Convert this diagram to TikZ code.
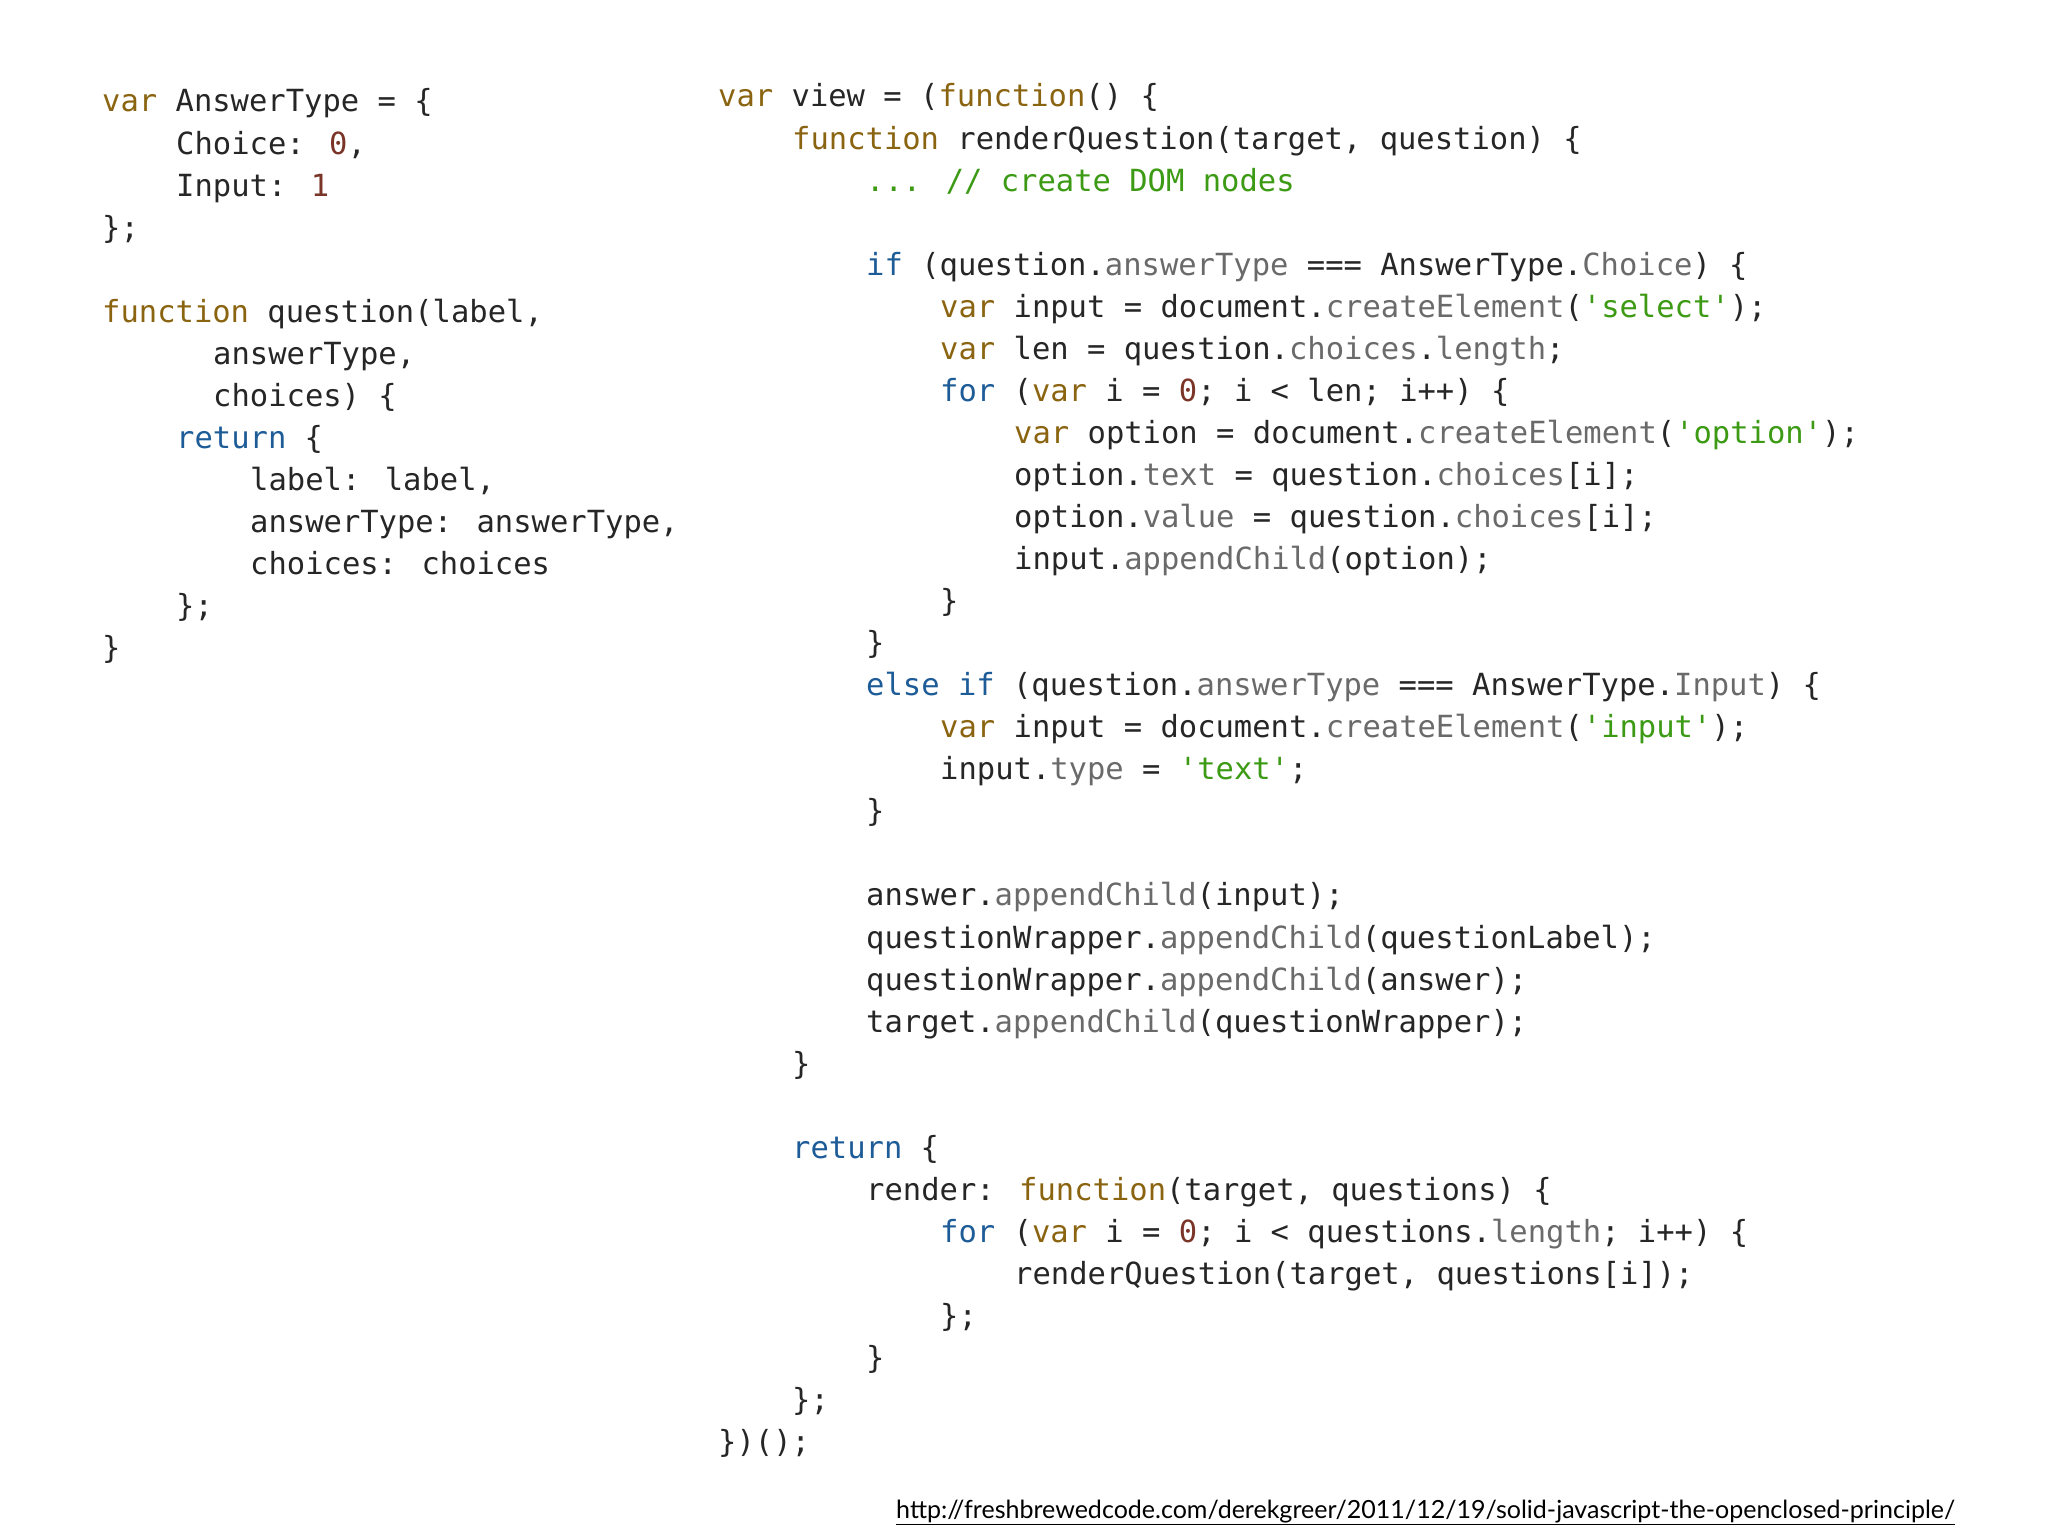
\documentclass[tikz,border=0pt]{standalone}
\usepackage{fontspec}
\newfontfamily\code{DejaVu Sans Mono}
\newfontfamily\urlfont{Lato}
\definecolor{tx}{HTML}{262626}
\definecolor{kgold}{HTML}{8A6410}
\definecolor{kblue}{HTML}{1E5C98}
\definecolor{kstr}{HTML}{3C9A14}
\definecolor{knum}{HTML}{7A3428}
\definecolor{kprop}{HTML}{6A6A6A}
\newcommand\kw[1]{\textcolor{kgold}{#1}}
\newcommand\kb[1]{\textcolor{kblue}{#1}}
\newcommand\ks[1]{\textcolor{kstr}{#1}}
\newcommand\kn[1]{\textcolor{knum}{#1}}
\newcommand\kp[1]{\textcolor{kprop}{#1}}
\newcommand\LL[4]{\node[cl] (#1) at (#2,{-(112+42.05*#3)}) {#4};}
\newcommand\RL[4]{\node[cl] (#1) at (#2,{-(107+42.05*#3)}) {#4};}
\tikzset{cl/.style={anchor=base west,inner sep=0pt,text=tx,font=\code\fontsize{30.5pt}{36pt}\selectfont}}
\begin{document}
\begin{tikzpicture}[x=1pt,y=1pt]
\useasboundingbox (0,0) rectangle (2048,-1536);
% left column
\LL{a0}{102}{0}{\kw{var} AnswerType = \{}
\LL{a1}{176}{1}{Choice: \kn{0},}
\LL{a2}{176}{2}{Input: \kn{1}}
\LL{a3}{102}{3}{\};}
\LL{a5}{102}{5}{\kw{function} question(label,}
\LL{a6}{213}{6}{answerType,}
\LL{a7}{213}{7}{choices) \{}
\LL{a8}{176}{8}{\kb{return} \{}
\LL{a9}{250}{9}{label: label,}
\LL{a10}{250}{10}{answerType: answerType,}
\LL{a11}{250}{11}{choices: choices}
\LL{a12}{176}{12}{\};}
\LL{a13}{102}{13}{\}}
% right column
\RL{b0}{718}{0}{\kw{var} view = (\kw{function}() \{}
\RL{b1}{792}{1}{\kw{function} renderQuestion(target, question) \{}
\RL{b2}{866}{2}{\ks{... // create DOM nodes}}
\RL{b4}{866}{4}{\kb{if} (question.\kp{answerType} === AnswerType.\kp{Choice}) \{}
\RL{b5}{940}{5}{\kw{var} input = document.\kp{createElement}(\ks{'select'});}
\RL{b6}{940}{6}{\kw{var} len = question.\kp{choices}.\kp{length};}
\RL{b7}{940}{7}{\kb{for} (\kw{var} i = \kn{0}; i < len; i++) \{}
\RL{b8}{1014}{8}{\kw{var} option = document.\kp{createElement}(\ks{'option'});}
\RL{b9}{1014}{9}{option.\kp{text} = question.\kp{choices}[i];}
\RL{b10}{1014}{10}{option.\kp{value} = question.\kp{choices}[i];}
\RL{b11}{1014}{11}{input.\kp{appendChild}(option);}
\RL{b12}{940}{12}{\}}
\RL{b13}{866}{13}{\}}
\RL{b14}{866}{14}{\kb{else if} (question.\kp{answerType} === AnswerType.\kp{Input}) \{}
\RL{b15}{940}{15}{\kw{var} input = document.\kp{createElement}(\ks{'input'});}
\RL{b16}{940}{16}{input.\kp{type} = \ks{'text'};}
\RL{b17}{866}{17}{\}}
\RL{b19}{866}{19}{answer.\kp{appendChild}(input);}
\RL{b20}{866}{20}{questionWrapper.\kp{appendChild}(questionLabel);}
\RL{b21}{866}{21}{questionWrapper.\kp{appendChild}(answer);}
\RL{b22}{866}{22}{target.\kp{appendChild}(questionWrapper);}
\RL{b23}{792}{23}{\}}
\RL{b25}{792}{25}{\kb{return} \{}
\RL{b26}{866}{26}{render: \kw{function}(target, questions) \{}
\RL{b27}{940}{27}{\kb{for} (\kw{var} i = \kn{0}; i < questions.\kp{length}; i++) \{}
\RL{b28}{1014}{28}{renderQuestion(target, questions[i]);}
\RL{b29}{940}{29}{\};}
\RL{b30}{866}{30}{\}}
\RL{b31}{792}{31}{\};}
\RL{b32}{718}{32}{\})();}
% url
\node[anchor=base west,inner sep=0pt,text=black] (url) at (896,-1518)
  {\resizebox{1059pt}{!}{\urlfont\fontsize{24pt}{28pt}\selectfont\underline{http://freshbrewedcode.com/derekgreer/2011/12/19/solid-javascript-the-openclosed-principle/}}};
\end{tikzpicture}
\end{document}
